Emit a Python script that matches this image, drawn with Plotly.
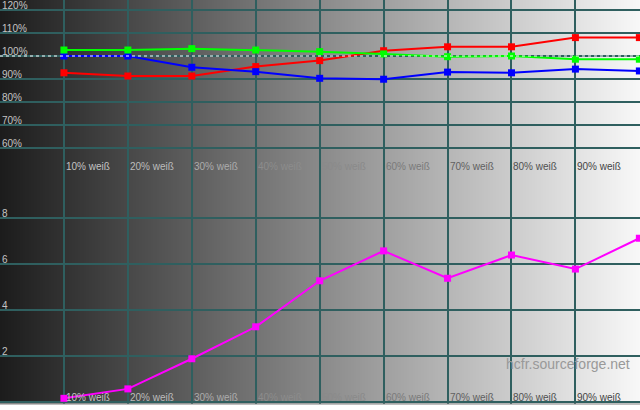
import plotly.graph_objects as go

# ---- data ----
levels = [10, 20, 30, 40, 50, 60, 70, 80, 90, 100]
level_labels = ["10% weiß", "20% weiß", "30% weiß", "40% weiß", "50% weiß",
                "60% weiß", "70% weiß", "80% weiß", "90% weiß"]
red = [92.7, 91.3, 91.3, 95.4, 98.0, 102.3, 104.0, 104.0, 108.0, 108.0]
green = [102.6, 102.6, 103.2, 102.6, 101.9, 100.9, 99.7, 100.0, 98.6, 98.6]
blue = [100.0, 100.0, 95.1, 93.2, 90.3, 89.9, 93.0, 92.7, 94.3, 93.5]
delta_e = [0.16, 0.57, 1.88, 3.27, 5.27, 6.57, 5.38, 6.39, 5.78, 7.12]
pct_ticks = [60, 70, 80, 90, 100, 110, 120]
pct_tick_text = ["60%", "70%", "80%", "90%", "100%", "110%", "120%"]
de_ticks = [2, 4, 6, 8]
de_tick_text = ["2", "4", "6", "8"]

# ---- style ----
W, H = 640, 410
GRID = "#2f5f5f"
FONT = "Liberation Sans"
label_colors = ["#c4c4c4", "#bcbcbc", "#acacac", "#8c8c8c", "#8a8a8a",
                "#7a7a7a", "#606060", "#505050", "#444444"]

top_px = (0, 190)
bot_px = (190, 403.5)
def dom(px):
    return [1 - px[1] / H, 1 - px[0] / H]

fig = go.Figure()

# background gradient (full-width subplot)
n = 256
fig.add_trace(go.Heatmap(
    z=[list(range(n))], x=[i / (n - 1) for i in range(n)], y=[0],
    colorscale=[[0, "#1c1c1c"], [1, "#f8f8f8"]], showscale=False,
    zsmooth="best", hoverinfo="skip", xaxis="x", yaxis="y"))

def add_line(y, color, xa, ya):
    fig.add_trace(go.Scatter(
        x=levels, y=y, mode="lines+markers", xaxis=xa, yaxis=ya,
        line=dict(color=color, width=2),
        marker=dict(symbol="square", size=7, color=color),
        cliponaxis=False, showlegend=False))

add_line(red, "#ff0000", "x2", "y2")
add_line(blue, "#0000ff", "x2", "y2")
add_line(green, "#00ff00", "x2", "y2")
add_line(delta_e, "#ff00ff", "x3", "y3")

# top panel y range: 120 at px 10, 23 px per 10 %
top_hi = 120 + 10 / 2.3
top_lo = top_hi - (top_px[1] - top_px[0]) / 2.3
# bottom panel: 0 at px 402, 23 px per unit
bot_hi = (402 - bot_px[0]) / 23
bot_lo = (402 - bot_px[1]) / 23

xr = [0, 100.1]
common_x = dict(range=xr, showgrid=True, gridcolor=GRID, gridwidth=1.5,
                tickvals=list(range(0, 101, 10)), showticklabels=False,
                zeroline=False, showline=False, ticks="", fixedrange=True)

fig.update_layout(
    width=W, height=H, margin=dict(l=0, r=0, t=0, b=0),
    paper_bgcolor="#ffffff", plot_bgcolor="rgba(0,0,0,0)",
    showlegend=False,
    xaxis=dict(domain=[0, 1], range=[0, 1], visible=False, fixedrange=True),
    yaxis=dict(domain=[1 - bot_px[1] / H, 1], range=[-0.5, 0.5],
               visible=False, fixedrange=True),
    xaxis2=dict(domain=[0, 1], anchor="y2", **common_x),
    yaxis2=dict(domain=dom(top_px), anchor="x2", range=[top_lo, top_hi],
                showgrid=True, gridcolor=GRID, gridwidth=1.5,
                tickvals=pct_ticks, showticklabels=False, zeroline=False,
                ticks="", fixedrange=True),
    xaxis3=dict(domain=[0, 1], anchor="y3", **common_x),
    yaxis3=dict(domain=dom(bot_px), anchor="x3", range=[bot_lo, bot_hi],
                showgrid=True, gridcolor=GRID, gridwidth=1.5,
                tickvals=[0] + de_ticks, showticklabels=False, zeroline=False,
                ticks="", fixedrange=True),
)

# dashed reference line at 100 %
fig.add_shape(type="line", xref="x2", yref="y2", x0=0, x1=100.1, y0=100, y1=100,
              line=dict(color="#ffffff", width=1, dash="3px,3px"), layer="above")

# y labels (inside, above gridlines)
for v, t in zip(pct_ticks, pct_tick_text):
    fig.add_annotation(x=0, y=v, xref="x2", yref="y2", text=t, showarrow=False,
                       xanchor="left", yanchor="middle", xshift=0, yshift=5,
                       font=dict(family=FONT, size=10, color="#c4c4c4"))
for v, t in zip(de_ticks, de_tick_text):
    fig.add_annotation(x=0, y=v, xref="x3", yref="y3", text=t, showarrow=False,
                       xanchor="left", yanchor="middle", xshift=0, yshift=5,
                       font=dict(family=FONT, size=10, color="#c4c4c4"))

# x labels in both panels
for lv, t, c in zip(levels, level_labels, label_colors):
    fig.add_annotation(x=lv, y=top_lo, xref="x2", yref="y2", text=t,
                       showarrow=False, xanchor="left", yanchor="middle",
                       xshift=0, yshift=24,
                       font=dict(family=FONT, size=10, color=c))
    fig.add_annotation(x=lv, y=bot_lo, xref="x3", yref="y3", text=t,
                       showarrow=False, xanchor="left", yanchor="middle",
                       xshift=0, yshift=6,
                       font=dict(family=FONT, size=10, color=c))

# watermark
fig.add_annotation(x=0.888, y=1 - 364 / H, xref="paper", yref="paper",
                   text="hcfr.sourceforge.net", showarrow=False,
                   xanchor="center", yanchor="middle",
                   font=dict(family=FONT, size=14, color="#999999"))

# bottom window strip border
fig.add_shape(type="line", xref="paper", yref="paper", x0=0, x1=1,
              y0=1 - 404 / H, y1=1 - 404 / H,
              line=dict(color="#808080", width=1))

fig.write_html("out.html", config={"displayModeBar": False},
               post_script="document.body.style.margin='0px';document.body.style.overflow='hidden';")
